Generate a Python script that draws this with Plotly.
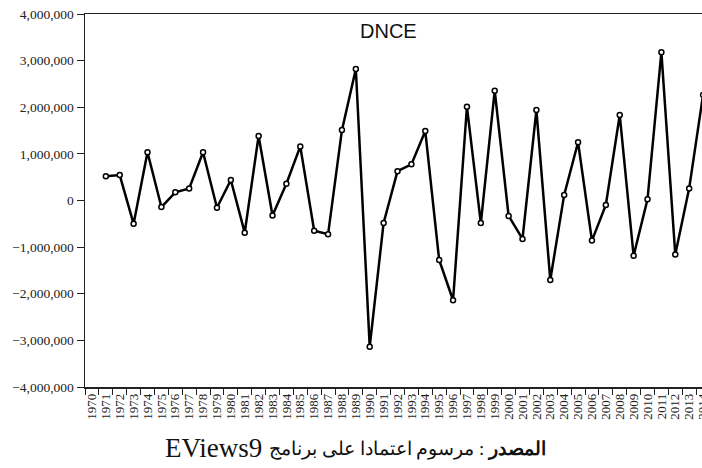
import plotly.graph_objects as go

years = [str(y) for y in range(1970, 2015)]
dnce = [None, 520000, 545000, -500000, 1035000, -140000, 175000, 260000, 1035000,
        -155000, 440000, -690000, 1385000, -320000, 360000, 1160000, -650000,
        -725000, 1510000, 2820000, -3135000, -480000, 630000, 775000, 1490000,
        -1275000, -2140000, 2010000, -485000, 2355000, -330000, -825000, 1940000,
        -1705000, 120000, 1250000, -860000, -95000, 1835000, -1185000, 25000,
        3180000, -1160000, 260000, 2265000]
series_name = "DNCE"
y_ticks = [-4000000, -3000000, -2000000, -1000000, 0, 1000000, 2000000, 3000000, 4000000]
caption_source = "<b>المصدر</b> : مرسوم اعتمادا على برنامج"
caption_tool = "EViews9"

SERIF = "Liberation Serif, Times New Roman, serif"
FIG_W, FIG_H = 710, 468
L, T, B = 85, 14, 81
PW = FIG_W - L
PH = FIG_H - T - B

fig = go.Figure()
fig.add_trace(go.Scatter(
    x=years, y=dnce, mode="lines+markers",
    line=dict(color="black", width=2.5),
    marker=dict(symbol="circle", size=5, color="white", line=dict(color="black", width=1.5)),
    cliponaxis=False, connectgaps=False, showlegend=False,
))

fig.update_layout(
    width=FIG_W, height=FIG_H,
    margin=dict(l=L, r=0, t=T, b=B, autoexpand=False),
    paper_bgcolor="white", plot_bgcolor="white",
    font=dict(family=SERIF, color="#222", size=13),
    xaxis=dict(
        type="category", range=[-0.5, 44.5],
        tickmode="array", tickvals=years, ticktext=years,
        tickson="boundaries", ticks="outside", ticklen=6, tickwidth=1, tickcolor="#222",
        tickangle=-90, tickfont=dict(family=SERIF, size=13, color="#222"),
        showline=True, linecolor="#222", linewidth=1.5, mirror=True,
        showgrid=False, zeroline=False, automargin=False,
    ),
    yaxis=dict(
        range=[-4000000, 4000000], tickvals=y_ticks, tickformat=",d",
        ticks="outside", ticklen=7, tickwidth=1, tickcolor="#222",
        tickfont=dict(family=SERIF, size=13.5, color="#222"),
        showline=True, linecolor="#222", linewidth=1.5, mirror=False,
        showgrid=False, zeroline=False, automargin=False,
    ),
    annotations=[
        dict(text=series_name, xref="paper", yref="paper", x=(388.9 - L) / PW, y=(387 - 31) / PH,
             xanchor="center", yanchor="middle", showarrow=False,
             font=dict(family="Liberation Sans, Arial, sans-serif", size=20, color="#111")),
        dict(text=caption_tool, xref="paper", yref="paper", x=(163 - L) / PW, y=(387 - 448) / PH,
             xanchor="left", yanchor="middle", showarrow=False,
             font=dict(family=SERIF, size=27, color="#111")),
        dict(text=caption_source, xref="paper", yref="paper", x=(548 - L) / PW, y=(387 - 449) / PH,
             xanchor="right", yanchor="middle", showarrow=False,
             font=dict(family=SERIF, size=19, color="#111")),
    ],
)

fig.write_html(
    "out.html",
    config={"displayModeBar": False, "staticPlot": True},
    post_script="document.body.style.margin='0';document.body.style.overflow='hidden';"
                "document.documentElement.style.overflow='hidden';",
)
